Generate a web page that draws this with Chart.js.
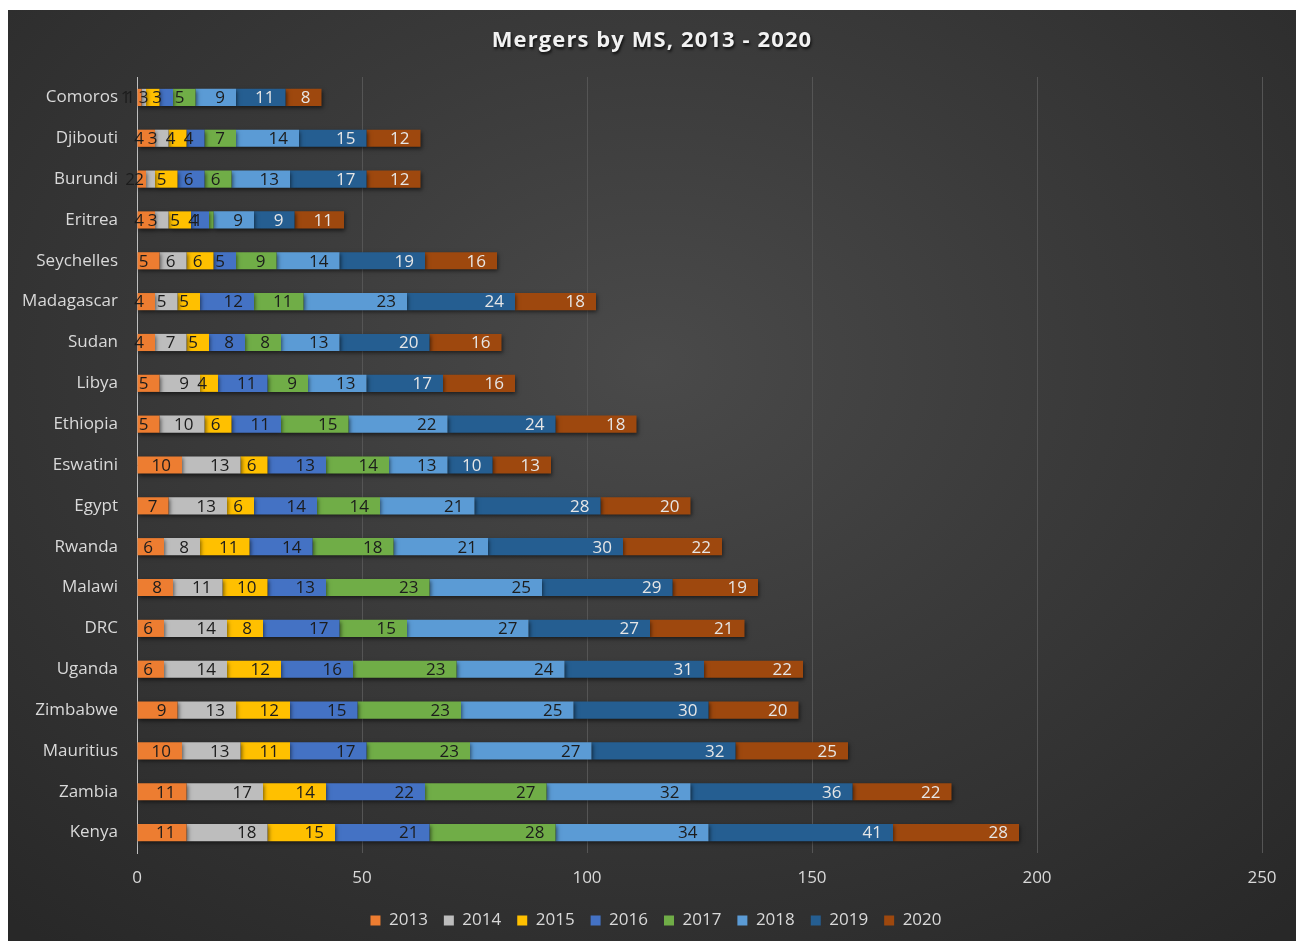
<!DOCTYPE html>
<html>
<head>
<meta charset="utf-8">
<title>Mergers by MS, 2013 - 2020</title>
<script src="https://cdn.jsdelivr.net/npm/chart.js@4.4.0/dist/chart.umd.min.js"></script>
<style>
    body { margin: 0; background: #ffffff; }
    #wrap {
        position: absolute;
        left: 8px;
        top: 10px;
        width: 1288px;
        height: 931px;
        background: radial-gradient(ellipse 75% 80% at 50% 38%, #4a4a4a 0%, #3a3a3a 45%, #282828 100%);
    }
</style>
</head>
<body>
<div id="wrap"><canvas id="myChart" width="1288" height="931"></canvas></div>
<script>
const countries = ['Comoros', 'Djibouti', 'Burundi', 'Eritrea', 'Seychelles', 'Madagascar', 'Sudan', 'Libya',
    'Ethiopia', 'Eswatini', 'Egypt', 'Rwanda', 'Malawi', 'DRC', 'Uganda', 'Zimbabwe', 'Mauritius', 'Zambia', 'Kenya'];

const years = ['2013', '2014', '2015', '2016', '2017', '2018', '2019', '2020'];

// one array per year, in the same order as countries
const y2013 = [1, 4, 2, 4, 5, 4, 4, 5, 5, 10, 7, 6, 8, 6, 6, 9, 10, 11, 11];
const y2014 = [1, 3, 2, 3, 6, 5, 7, 9, 10, 13, 13, 8, 11, 14, 14, 13, 13, 17, 18];
const y2015 = [3, 4, 5, 5, 6, 5, 5, 4, 6, 6, 6, 11, 10, 8, 12, 12, 11, 14, 15];
const y2016 = [3, 4, 6, 4, 5, 12, 8, 11, 11, 13, 14, 14, 13, 17, 16, 15, 17, 22, 21];
const y2017 = [5, 7, 6, 1, 9, 11, 8, 9, 15, 14, 14, 18, 23, 15, 23, 23, 23, 27, 28];
const y2018 = [9, 14, 13, 9, 14, 23, 13, 13, 22, 13, 21, 21, 25, 27, 24, 25, 27, 32, 34];
const y2019 = [11, 15, 17, 9, 19, 24, 20, 17, 24, 10, 28, 30, 29, 27, 31, 30, 32, 36, 41];
const y2020 = [8, 12, 12, 11, 16, 18, 16, 16, 18, 13, 20, 22, 19, 21, 22, 20, 25, 22, 28];

const xTicks = [0, 50, 100, 150, 200, 250];

const seriesValues = [y2013, y2014, y2015, y2016, y2017, y2018, y2019, y2020];
const barColors = ['#ED7D31', '#BDBDBD', '#FFC000', '#4472C4', '#70AD47', '#5B9BD5', '#255E91', '#9E480E'];
const labelColors = ['#1c1c1c', '#1c1c1c', '#1c1c1c', '#1c1c1c', '#1c1c1c', '#1c1c1c', '#e6e6e6', '#e6e6e6'];

const FONT = '"Open Sans", "Noto Sans", sans-serif';

// bar shadows + value labels at the inside end of each segment (like Excel)
const segmentLabels = {
    id: 'segmentLabels',
    beforeDatasetsDraw(chart) {
        const ctx = chart.ctx;
        ctx.save();
        ctx.shadowColor = 'rgba(0, 0, 0, 0.55)';
        ctx.shadowBlur = 4;
        ctx.shadowOffsetX = 1;
        ctx.shadowOffsetY = 2;
    },
    afterDatasetsDraw(chart) {
        const ctx = chart.ctx;
        ctx.restore();
        ctx.save();
        ctx.font = '17px ' + FONT;
        ctx.textAlign = 'right';
        ctx.textBaseline = 'middle';
        chart.data.datasets.forEach((ds, i) => {
            const meta = chart.getDatasetMeta(i);
            ctx.fillStyle = labelColors[i];
            meta.data.forEach((bar, j) => {
                const v = ds.data[j];
                if (!v) return;
                ctx.fillText(String(v), bar.x - 11, bar.y + 1);
            });
        });
        ctx.restore();
    }
};

// title drawn by hand to get the spaced, shadowed look
const chartTitle = {
    id: 'chartTitle',
    afterDraw(chart) {
        const ctx = chart.ctx;
        ctx.save();
        ctx.font = 'bold 22px ' + FONT;
        if ('letterSpacing' in ctx) ctx.letterSpacing = '1.1px';
        ctx.textAlign = 'center';
        ctx.textBaseline = 'middle';
        ctx.shadowColor = 'rgba(0, 0, 0, 0.8)';
        ctx.shadowBlur = 3;
        ctx.shadowOffsetX = 1;
        ctx.shadowOffsetY = 2;
        ctx.fillStyle = '#f2f2f2';
        ctx.fillText('Mergers by MS, 2013 - 2020', chart.width / 2, 31);
        ctx.restore();
    }
};

// the right padding pushes the legend off-centre; move it back under the plot
const legendShift = {
    id: 'legendShift',
    afterLayout(chart) {
        if (chart.legend) {
            chart.legend.left += 21;
            chart.legend.right += 21;
        }
    }
};

const ctx = document.getElementById('myChart').getContext('2d');

const chart = new Chart(ctx, {
    type: 'bar',
    data: {
        labels: countries,
        datasets: years.map((yr, i) => ({
            label: yr,
            data: seriesValues[i],
            backgroundColor: barColors[i],
            borderWidth: 0,
            barPercentage: 0.42,
            categoryPercentage: 1
        }))
    },
    options: {
        indexAxis: 'y',
        responsive: false,
        animation: false,
        layout: {
            padding: { top: 67, right: 34, left: 0, bottom: 2 }
        },
        plugins: {
            title: { display: false },
            tooltip: { enabled: false },
            legend: {
                display: true,
                position: 'bottom',
                labels: {
                    color: '#d9d9d9',
                    font: { family: FONT, size: 17 },
                    boxWidth: 10,
                    boxHeight: 10,
                    padding: 16
                }
            }
        },
        scales: {
            x: {
                stacked: true,
                min: 0,
                max: 250,
                afterBuildTicks: scale => {
                    scale.ticks = xTicks.map(v => ({ value: v }));
                },
                afterFit: scale => {
                    scale.height = 43;
                },
                grid: {
                    color: '#555555',
                    lineWidth: 1,
                    drawTicks: false
                },
                border: { display: false },
                ticks: {
                    color: '#d9d9d9',
                    font: { family: FONT, size: 17 },
                    padding: 15
                }
            },
            y: {
                stacked: true,
                afterFit: scale => {
                    scale.width = 129;
                },
                grid: { display: false, drawTicks: false },
                border: { display: true, color: '#bfbfbf', width: 1 },
                ticks: {
                    color: '#d9d9d9',
                    font: { family: FONT, size: 17 },
                    padding: 19
                }
            }
        }
    },
    plugins: [segmentLabels, chartTitle, legendShift]
});
</script>
</body>
</html>
